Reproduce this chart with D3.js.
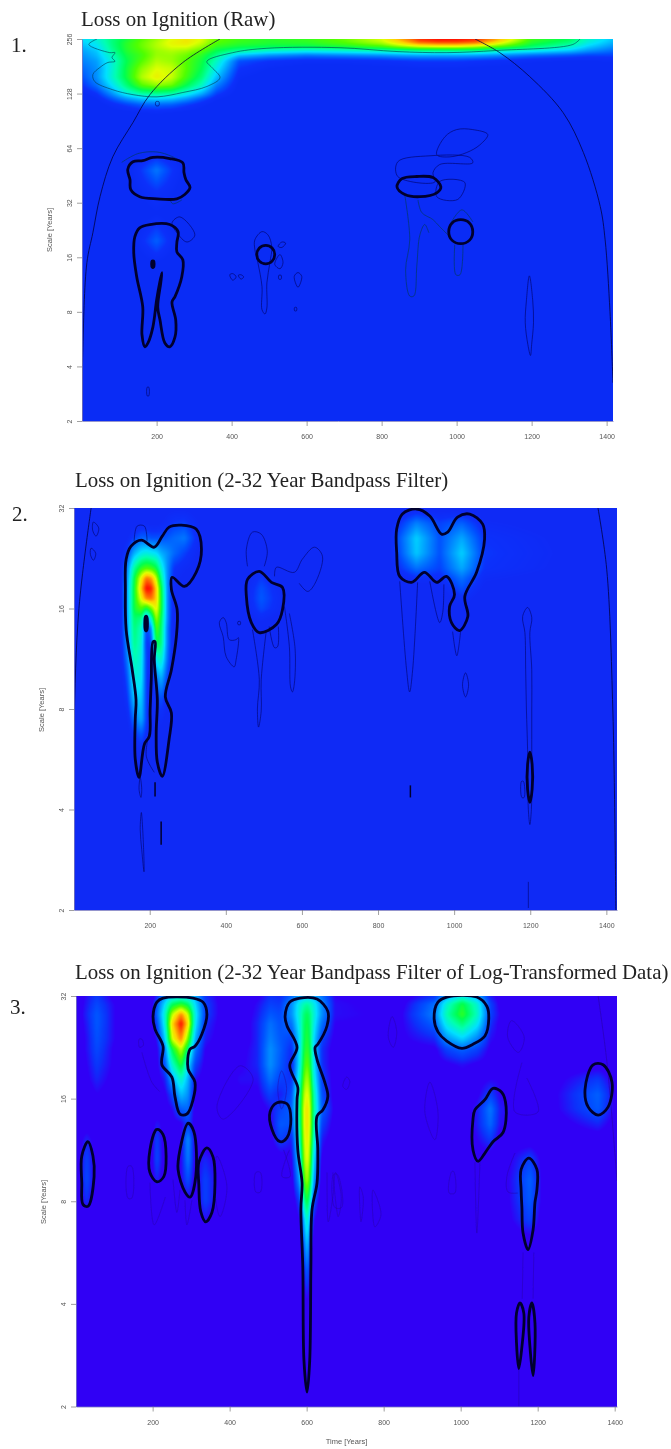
<!DOCTYPE html>
<html><head><meta charset="utf-8">
<script src="https://cdn.jsdelivr.net/npm/d3@7/dist/d3.min.js"></script>
<style>html,body{margin:0;padding:0;background:#fff}svg{display:block}</style>
</head><body><div id="chart"></div>
<script>
const titles=["Loss on Ignition (Raw)","Loss on Ignition (2-32 Year Bandpass Filter)","Loss on Ignition (2-32 Year Bandpass Filter of Log-Transformed Data)"];
const panelNumbers=["1.","2.","3."];
const timeTicks=[200,400,600,800,1000,1200,1400];
const scaleTicks1=[2,4,8,16,32,64,128,256];
const scaleTicks2=[2,4,8,16,32];
const colorStops=[0,.04,.08,.12,.16,.22,.3,.4,.5,.6,.72,.8,.9,1];
const colorValues=["#0c30fa","#0050ff","#0070ff","#00a0ff","#00e0ff","#00ffb0","#00ff50","#50ff00","#e0ff00","#ffd000","#ff7000","#ff0000"];
const baseColors=["#0a2cf5","#0f2af5","#3000f5"];

/* Wavelet power. Columns are years, rows are log2(scale). Short rows end in zeros. */
const years1=[1,40,80,120,160,200,240,280,320,360,420,500,600,700,800,850,900,950,1000,1050,1100,1200,1300,1350,1417];
const octaves1=[8,7.93,7.86,7.78,7.7,7.6,7.45,7.3,7.15,7,6.9,6.8,6.65,6.4,6,5.6,5.2,4.8,4.3,3.9,3,2,1];
const power1=[
[.30,.35,.45,.52,.60,.66,.72,.76,.72,.62,.58,.55,.57,.62,.72,.85,.97,1,1,.98,.88,.58,.5,.38,.27],
[.28,.33,.45,.55,.62,.68,.74,.76,.70,.60,.56,.54,.55,.60,.68,.78,.90,.93,.93,.90,.78,.54,.45,.34,.24],
[.25,.3,.44,.55,.62,.68,.72,.72,.66,.56,.52,.50,.50,.53,.58,.65,.70,.72,.72,.68,.62,.48,.38,.28,.2],
[.22,.27,.42,.54,.6,.66,.68,.66,.6,.5,.42,.36,.33,.35,.38,.40,.42,.42,.42,.42,.38,.32,.26,.2,.15],
[.2,.25,.38,.52,.58,.66,.66,.62,.55,.44,.26,.2,.16,.18,.2,.22,.23,.23,.23,.22,.2,.15,.12,.1,.1],
[.18,.22,.35,.5,.6,.68,.66,.6,.52,.38,.12,.08,.06,.06,.07,.08,.09,.09,.09,.08,.07,.05,.04,.04,.05],
[.15,.2,.35,.52,.65,.72,.7,.6,.5,.32,.08,.04,.02,.02,.03,.03,.04,.04,.04,.03,.03,.02,.01,.01,.02],
[.12,.2,.36,.52,.68,.75,.7,.58,.46,.26,.05,.02,.01,.01,.01,.02,.02,.03,.02,.02,.01],
[.08,.16,.3,.46,.6,.65,.62,.5,.38,.18,.03,.01,.01,.01,.01,.02,.02,.02,.02,.01,.01],
[.03,.08,.2,.34,.42,.44,.42,.34,.24,.1,.02,.01,0,0,.01,.01,.02,.02,.02,.01],
[0,.04,.12,.2,.26,.28,.26,.2,.12,.05,.01,0,0,0,0,.01,.02,.03,.02,.01],
[0,.02,.06,.1,.14,.15,.14,.1,.06,.02,0,0,0,0,0,.01,.02,.03,.02,.01],
[0,0,.02,.03,.04,.05,.04,.03,.02,0,0,0,0,0,0,.01,.02,.03,.02,.01],
[0,0,0,0,0,0,0,0,0,0,0,0,0,0,0,.01,.02,.02,.02,.01],
[0,0,0,0,.01,.01,.01,0,0,0,0,0,0,0,0,.01,.02,.02,.01],
[0,0,0,.02,.09,.17,.09,.02,0,0,0,0,0,0,0,.01,.01,.01],
[0,0,0,.01,.05,.08,.05,.01],
[0,0,0,0,.02,.04,.02],
[0,0,0,.01,.07,.14,.06,.01],
[0,0,0,0,.02,.04,.02],
[],[],[]];

const years2=[1,120,141,159,178,191,204,217,230,246,264,291,330,435,493,554,817,857,901,962,1020,1080,1428];
const octaves2=[5,4.85,4.7,4.55,4.4,4.3,4.2,4.1,4,3.9,3.8,3.65,3.5,3.3,3.1,2.9,2.75,2.6,2.3,1];
const power2=[
[0,0,0,0,0,0,0,0,.02,.03,.03,.03,.02,0,0,0,0,.01,.03,.02,.02,.01,0],
[0,0,0,.02,.04,.04,.03,.03,.04,.06,.09,.1,.04,0,.01,0,0,.08,.18,.1,.14,.05,0],
[0,0,.04,.1,.14,.14,.12,.12,.12,.13,.15,.17,.05,0,.01,0,0,.13,.28,.12,.23,.08,0],
[0,.01,.1,.24,.32,.34,.32,.3,.24,.2,.15,.1,.03,0,.02,0,0,.12,.27,.12,.28,.09,0],
[0,.02,.18,.42,.56,.6,.58,.52,.36,.2,.08,.05,.02,0,.05,0,0,.08,.16,.1,.23,.08,0],
[0,.02,.2,.5,.75,.9,.86,.7,.44,.2,.06,.03,0,0,.09,.02,0,.03,.07,.06,.16,.05,0],
[0,.02,.22,.52,.82,1,.98,.8,.52,.2,.04,.01,0,0,.12,.03,0,0,.01,.03,.12,.03,0],
[0,.02,.22,.52,.74,.88,.9,.8,.54,.2,.03,0,0,0,.13,.04,0,0,0,0,.07,.01,0],
[0,.02,.22,.52,.6,.5,.62,.76,.54,.2,.03,0,0,0,.11,.04,0,0,0,0,.03,0,0],
[0,.02,.22,.48,.44,.2,.36,.68,.5,.2,.02,0,0,0,.06,.01,0,0,0,0,.03,0,0],
[0,.02,.22,.46,.38,.1,.18,.6,.48,.18,.02],
[0,.01,.2,.44,.36,.08,.1,.5,.46,.18,.02],
[0,.01,.17,.4,.34,.1,.05,.34,.38,.16,.01],
[0,0,.12,.34,.32,.1,.02,.16,.24,.1,.01],
[0,0,.08,.26,.28,.1,.02,.08,.12,.05],
[0,0,.04,.16,.24,.1,.01,.04,.06,.02],
[0,0,.02,.08,.13,.07,0,.01,.02,.01],
[0,0,0,.03,.06,.03,0,0,.01],
[],[]];

const years3=[1,29,55,102,193,211,232,250,274,292,310,336,388,427,473,505,531,561,582,593,601,608,618,639,673,842,933,964,1004,1043,1077,1102,1180,1219,1357,1406];
const octaves3=[5,4.92,4.82,4.73,4.58,4.48,4.33,4.19,4.04,3.9,3.75,3.6,3.41,3.21,3.01,2.82,2.57,2.33,2.04,1];
const power3=[
[0,.05,.09,.02,0,.06,.2,.28,.3,.28,.24,.08,.01,0,.03,.08,.07,.14,.22,.24,.26,.25,.24,.16,.04,.01,.08,.22,.32,.22,.06,.02,.01,0,0,0],
[0,.06,.11,.04,0,.12,.3,.48,.55,.48,.3,.1,.01,0,.05,.1,.09,.2,.34,.4,.42,.4,.34,.2,.05,.02,.16,.36,.52,.36,.1,.03,.01,.01,0,0],
[0,.07,.13,.04,0,.14,.36,.68,.88,.7,.34,.1,.01,0,.06,.13,.11,.2,.36,.46,.5,.46,.36,.2,.05,.03,.18,.4,.56,.38,.1,.04,.02,.01,.01,0],
[0,.06,.13,.04,0,.1,.34,.78,1,.78,.32,.08,.01,0,.07,.16,.12,.16,.34,.48,.52,.48,.34,.16,.04,.03,.14,.34,.46,.32,.08,.03,.03,.01,.01,0],
[0,.05,.12,.04,.01,.05,.27,.7,.88,.62,.24,.06,.01,0,.07,.18,.13,.1,.3,.5,.54,.5,.3,.1,.03,.03,.07,.2,.28,.18,.05,.03,.03,.01,.01,0],
[0,.05,.11,.03,.01,.03,.18,.5,.7,.46,.17,.04,0,.02,.07,.2,.14,.07,.3,.52,.56,.52,.3,.08,.02,.02,.03,.1,.14,.1,.03,.03,.02,.01,.01,0],
[0,.04,.09,.03,.01,.03,.12,.36,.54,.3,.1,.03,.01,.03,.07,.2,.13,.06,.32,.56,.62,.56,.32,.08,.02,.01,.02,.03,.05,.03,.02,.03,.02,.01,.02,0],
[0,.03,.07,.02,.01,.02,.06,.22,.38,.24,.05,.02,.01,.05,.05,.16,.1,.08,.36,.62,.68,.62,.36,.1,.02,.01,.01,.02,.02,.02,.04,.04,.02,.01,.09,.01],
[0,.01,.04,.01,.01,.01,.03,.1,.26,.2,.03,.02,.01,.03,.03,.1,.06,.12,.42,.68,.74,.68,.42,.12,.02,.01,.02,.01,.01,.03,.1,.04,.02,.01,.14,.02],
[0,.01,.02,0,0,.01,.02,.04,.14,.15,.02,.01,.01,.01,.01,.05,.1,.14,.44,.72,.78,.72,.44,.14,.03,.01,.03,.01,.01,.06,.17,.06,.01,.01,.13,.02],
[0,.01,.01,0,0,.06,.02,.02,.03,.1,.02,0,0,0,0,.03,.13,.12,.42,.72,.78,.72,.42,.1,.02,.01,.02,.01,0,.06,.15,.05,.01,0,.07,.01],
[0,.07,.01,0,0,.1,.01,.01,.04,.2,.03,.01,0,0,0,.02,.1,.06,.38,.7,.76,.7,.38,.06,.01,0,0,0,0,.04,.09,.02,.01,0,.01,0],
[0,.1,.01,0,0,.11,.01,.01,.04,.18,.03,.07,0,0,0,0,.01,.03,.3,.66,.74,.66,.3,.03,0,0,0,0,0,.01,.01,0,.1,.01],
[0,.11,.01,0,0,.07,0,.01,.04,.12,.02,.1,0,0,0,0,0,.01,.22,.58,.68,.58,.22,.02,0,0,0,0,0,0,0,0,.14,.01],
[0,.08,0,0,0,0,0,0,.01,.04,.01,.1,0,0,0,0,0,0,.1,.42,.54,.42,.12,0,0,0,0,0,0,0,0,0,.13,.01],
[0,0,0,0,0,0,0,0,0,0,0,.05,0,0,0,0,0,0,.04,.24,.4,.24,.05,0,0,0,0,0,0,0,0,0,.1],
[0,0,0,0,0,0,0,0,0,0,0,0,0,0,0,0,0,0,.01,.13,.28,.13,.01],
[0,0,0,0,0,0,0,0,0,0,0,0,0,0,0,0,0,0,0,.05,.16,.05],
[0,0,0,0,0,0,0,0,0,0,0,0,0,0,0,0,0,0,0,0,.06],
[]];

/* Contours as [year, log2(scale)] pairs. */
const thick1=[
[[123,5.61],[137,5.75],[163,5.77],[190,5.83],[235,5.81],[270,5.73],[273,5.55],[278,5.42],[289,5.28],[275,5.15],[254,5.07],[201,5.07],[155,5.11],[131,5.24],[129,5.42]],
[[142,4.38],[155,4.54],[182,4.6],[235,4.6],[257,4.47],[254,4.27],[254,4.1],[270,3.95],[267,3.64],[249,3.28],[241,3.18],[251,2.85],[249,2.54],[235,2.36],[222,2.43],[209,2.85],[203,3.09],[211,3.53],[214,3.72],[208,3.53],[200,3.22],[190,2.72],[177,2.43],[169,2.36],[161,2.58],[163,3.09],[147,3.64],[139,4.08]],
[[188,3.93],[192,3.93],[192,3.82],[188,3.82]],
[[841,5.29],[854,5.44],[894,5.48],[937,5.46],[958,5.29],[947,5.18],[902,5.11],[862,5.15]],
[[1011,4.69],[1034,4.63],[1043,4.47],[1034,4.31],[1011,4.25],[988,4.31],[979,4.47],[988,4.63]],
[[491,4.22],[508,4.17],[515,4.05],[508,3.93],[491,3.88],[474,3.93],[467,4.05],[474,4.17]]];
const thinClosed1=[
[[198,6.85],[206,6.85],[206,6.78],[198,6.78]],
[[241,4.63],[262,4.74],[302,4.41],[281,4.28],[254,4.45]],
[[462,4.32],[481,4.47],[497,4.41],[507,4.19],[502,3.9],[494,3.53],[494,3.07],[489,2.96],[481,3.04],[481,3.46],[470,3.9],[462,4.14]],
[[524,4.2],[534,4.28],[544,4.26],[534,4.18]],
[[529,4.05],[537,3.9],[529,3.79],[515,3.87]],
[[395,3.68],[403,3.7],[412,3.64],[403,3.58]],
[[418,3.67],[425,3.68],[432,3.64],[425,3.6]],
[[526,3.67],[532,3.67],[532,3.6],[526,3.6]],
[[567,3.65],[577,3.72],[587,3.65],[577,3.45]],
[[568,3.08],[573,3.08],[573,3.02],[568,3.02]],
[[175,1.62],[179,1.62],[179,1.46],[175,1.46]],
[[969,6.21],[1000,6.34],[1043,6.34],[1083,6.25],[1062,6.06],[1027,5.92],[982,5.84],[947,5.88]],
[[843,5.75],[929,5.86],[1035,5.83],[1043,5.73],[955,5.7],[937,5.55],[942,5.38],[843,5.48]],
[[955,5.39],[1022,5.37],[1003,5.06],[947,5.11]],
[[1194,3.66],[1203,3.2],[1205,2.8],[1200,2.4],[1197,2.2],[1190,2.4],[1183,2.8],[1186,3.2]]];
const thinOpen1=[
[[41,8],[19,7.9],[75,7.75],[89,7.75],[81,7.66],[89,7.59],[70,7.57],[49,7.48],[30,7.35],[35,7.22],[83,7.07],[137,6.98],[201,6.94],[270,7.02],[334,7.13],[369,7.29],[347,7.48],[334,7.59],[403,7.75],[494,7.83],[689,7.84],[841,7.77],[974,7.75],[1107,7.79],[1310,7.9],[1329,8]],
[[107,5.74],[150,5.9],[201,5.93],[240,5.85],[267,5.75]],
[[235,5.07],[243,4.98],[267,5.05]],
[[862,5.13],[875,4.32],[864,3.77],[875,3.29],[886,3.29],[894,3.86],[902,4.41],[915,4.6],[926,4.45]],
[[897,5.05],[907,4.82],[937,4.69],[955,4.56],[977,4.41]],
[[982,4.6],[1014,4.87],[1043,4.65]],
[[995,4.23],[998,3.68],[1009,3.68],[1017,4.23]]];
const coi1=[
[[369,8],[270,7.57],[182,6.98],[137,6.47],[83,5.84],[49,5.11],[30,4.45],[14,3.9],[3,2.25],[1,1]],
[[1049,8],[1115,7.75],[1195,7.31],[1284,6.65],[1338,5.92],[1383,4.93],[1396,4.32],[1409,3],[1417,1.7]]];

const thick2=[
[[138,4.49],[151,4.62],[178,4.68],[212,4.61],[233,4.72],[251,4.81],[283,4.83],[322,4.79],[336,4.59],[322,4.36],[291,4.22],[259,4.31],[257,4.19],[272,3.99],[270,3.72],[257,3.39],[241,3.12],[257,2.96],[251,2.7],[233,2.33],[220,2.47],[217,2.75],[220,3.09],[212,3.49],[214,3.67],[209,3.67],[204,3.29],[201,2.99],[199,2.73],[186,2.65],[172,2.32],[162,2.5],[162,2.9],[164,3.09],[154,3.39],[138,3.79],[136,4.19]],
[[189,3.92],[192,3.92],[192,3.78],[189,3.78]],
[[454,4.12],[457,4.29],[488,4.37],[520,4.26],[549,4.21],[549,3.99],[533,3.84],[488,3.76],[467,3.86]],
[[849,4.79],[864,4.94],[901,4.99],[936,4.92],[967,4.74],[983,4.76],[1009,4.91],[1041,4.94],[1075,4.84],[1080,4.69],[1059,4.36],[1028,4.12],[1036,3.92],[1014,3.78],[993,3.86],[988,4.02],[1001,4.14],[980,4.32],[954,4.26],[922,4.36],[888,4.26],[857,4.32],[849,4.56]],
[[1199,2.57],[1205,2.45],[1205,2.2],[1199,2.07],[1193,2.2],[1193,2.45]]];
const thinClosed2=[
[[52,4.86],[66,4.8],[59,4.72],[50,4.78]],
[[46,4.6],[58,4.55],[52,4.48],[44,4.54]],
[[383,3.86],[393,3.91],[401,3.86],[409,3.69],[427,3.69],[433,3.71],[427,3.49],[422,3.42],[401,3.52],[393,3.72]],
[[432,3.87],[438,3.87],[438,3.84],[432,3.84]],
[[1030,3.36],[1038,3.24],[1030,3.12],[1022,3.24]],
[[1180,3.92],[1193,4.01],[1204,3.91],[1199,3.76],[1204,3.39],[1204,2.99],[1204,2.6],[1204,2.3],[1203,2],[1199,1.85],[1195,2],[1193,2.6],[1190,2.99],[1188,3.39],[1186,3.76]],
[[1177,2.28],[1182,2.28],[1184,2.12],[1178,2.12]],
[[175,2.32],[179,2.2],[177,2.12],[172,2.2]],
[[178,1.97],[184,1.6],[185,1.38],[179,1.6],[175,1.8]]];
const thinOpen2=[
[[159,4.67],[167,4.82],[186,4.82],[193,4.67]],
[[457,4.42],[454,4.59],[470,4.76],[493,4.74],[509,4.57],[501,4.42]],
[[528,4.32],[533,4.41],[580,4.36],[601,4.49],[633,4.61],[654,4.52],[633,4.24],[615,4.17],[593,4.25]],
[[554,4.02],[567,3.62],[570,3.22],[575,3.17],[580,3.25],[582,3.6],[567,3.95]],
[[470,3.79],[488,3.29],[483,3],[486,2.82],[493,2.98],[493,3.29],[506,3.77]],
[[514,3.82],[528,3.61],[536,3.62],[538,3.82]],
[[857,4.27],[875,3.39],[883,3.17],[891,3.39],[904,4.26]],
[[936,4.27],[962,3.86],[970,3.96],[973,4.24]],
[[996,3.77],[1007,3.53],[1017,3.77]],
[[212,2.37],[191,2.53],[199,2.77]],
[[1195,1.28],[1195,1.02]]];
const dark2=[
[[214,2.27],[214,2.13]],
[[230,1.88],[230,1.65]],
[[885,2.24],[885,2.12]]];
const coi2=[
[[46,5],[14,4],[1,2.77],[1,1]],
[[1378,5],[1401,4.39],[1417,3],[1425,1]]];

const thick3=[
[[201,4.8],[211,4.94],[227,4.98],[305,4.98],[331,4.94],[341,4.82],[328,4.63],[310,4.51],[297,4.48],[292,4.29],[310,4.16],[305,3.99],[289,3.85],[271,3.85],[258,4.02],[250,4.21],[224,4.33],[227,4.51],[206,4.68]],
[[544,4.8],[556,4.94],[583,4.98],[627,4.97],[655,4.85],[653,4.71],[629,4.53],[622,4.5],[627,4.38],[647,4.16],[655,4.02],[642,3.89],[627,3.83],[629,3.5],[627,3.18],[614,2.92],[611,2.36],[608,1.45],[601,1.14],[593,1.45],[590,2.36],[585,2.92],[588,3.18],[577,3.5],[575,3.99],[577,4.11],[556,4.32],[575,4.5],[549,4.71]],
[[931,4.78],[941,4.94],[964,4.99],[1042,4.99],[1068,4.9],[1073,4.78],[1063,4.61],[1032,4.53],[1003,4.49],[964,4.56],[941,4.65]],
[[1032,3.8],[1037,3.89],[1063,3.99],[1084,4.1],[1107,4.06],[1118,3.92],[1110,3.67],[1084,3.58],[1063,3.47],[1045,3.39],[1032,3.5]],
[[1323,4.09],[1344,4.33],[1370,4.33],[1393,4.16],[1383,3.92],[1357,3.84],[1331,3.92]],
[[1177,3.42],[1198,3.31],[1198,3.11],[1193,2.99],[1188,2.72],[1175,2.53],[1162,2.69],[1159,2.94],[1157,3.11],[1157,3.31]],
[[1154,2.01],[1164,1.91],[1159,1.58],[1151,1.37],[1145,1.62],[1145,1.91]],
[[1185,2.01],[1193,1.81],[1188,1.3],[1180,1.58],[1177,1.87]],
[[16,3.44],[32,3.58],[45,3.44],[48,3.24],[32,2.95],[19,2.97],[16,3.18]],
[[193,3.5],[211,3.7],[227,3.65],[235,3.44],[229,3.24],[211,3.19],[193,3.28]],
[[271,3.5],[292,3.76],[307,3.68],[312,3.24],[297,3.04],[284,3.09],[266,3.31]],
[[320,3.38],[341,3.52],[357,3.43],[362,3.18],[354,2.89],[338,2.8],[325,2.9],[320,3.16]],
[[505,3.87],[523,3.96],[549,3.95],[559,3.8],[549,3.62],[531,3.58],[510,3.7]]];
const thinClosed3=[
[[136,3.34],[146,3.34],[146,3.03],[136,3.03]],
[[367,3.44],[393,3.14],[375,2.85],[362,3.08]],
[[468,3.28],[480,3.28],[480,3.09],[468,3.09]],
[[670,3.26],[673,2.94],[691,2.94],[680,3.26]],
[[738,3.14],[741,2.8],[747,3.04]],
[[772,3.11],[777,2.75],[793,2.87]],
[[977,3.29],[970,3.08],[985,3.08],[982,3.29]],
[[367,3.92],[427,4.32],[461,4.19],[383,3.8]],
[[535,4.27],[548,4.1],[535,3.9],[525,4.1]],
[[920,4.16],[907,3.87],[933,3.6],[941,3.87]],
[[704,4.21],[694,4.12],[704,4.09],[712,4.17]],
[[822,4.8],[812,4.6],[825,4.5],[834,4.65]],
[[1132,4.76],[1122,4.6],[1150,4.45],[1165,4.6]],
[[165,4.58],[172,4.58],[176,4.52],[166,4.5]]];
const thinOpen3=[
[[193,3.18],[204,2.77],[233,3.04]],
[[253,3.21],[263,2.89],[271,3.11]],
[[284,3.01],[289,2.77],[302,3.01]],
[[555,3.5],[536,3.24],[557,3.24],[540,3.5]],
[[653,3.28],[656,2.8],[668,3.04],[675,3.28],[690,3.04],[682,2.85],[668,3.28]],
[[1037,3.38],[1042,2.69],[1050,3.38]],
[[1141,3.47],[1120,3.24],[1123,3.09],[1149,3.08]],
[[1159,4.35],[1141,3.87],[1201,3.87],[1172,4.2]],
[[172,4.45],[198,4.16],[218,4.07]],
[[1151,1.37],[1151,1]],
[[1162,2.5],[1160,2.05]],
[[1190,2.5],[1188,2.05]]];
const coi3=[[[1357,5],[1380,4.35],[1406,3.2]]];

const panels=[
 {i:0,title:[81,26],num:[11,52],domainX:[1,1417],rangeX:[82,613],domainY:[2,256],rangeY:[421,39],ticksY:scaleTicks1,years:years1,octaves:octaves1,power:power1,thick:thick1,closed:thinClosed1,open:thinOpen1,dark:[],coi:coi1,labelX:52,labelY:230,thin:"#0a0a60",thinOp:.75,pad:9},
 {i:1,title:[75,487],num:[12,521],domainX:[1,1428],rangeX:[74,617],domainY:[2,32],rangeY:[910,508],ticksY:scaleTicks2,years:years2,octaves:octaves2,power:power2,thick:thick2,closed:thinClosed2,open:thinOpen2,dark:dark2,coi:coi2,labelX:44,labelY:710,thin:"#0a0a60",thinOp:.7,pad:9},
 {i:2,title:[75,979],num:[10,1014],domainX:[1,1406],rangeX:[76,617],domainY:[2,32],rangeY:[1406.5,996],ticksY:scaleTicks2,years:years3,octaves:octaves3,power:power3,thick:thick3,closed:thinClosed3,open:thinOpen3,dark:[],coi:coi3,labelX:46,labelY:1202,thin:"#28009a",thinOp:.5,pad:10}
];

const W=671,H=1449;
const svg=d3.select("#chart").append("svg").attr("width",W).attr("height",H).style("background","#fff");
const defs=svg.append("defs");
defs.append("filter").attr("id","soft").attr("x","-2%").attr("y","-2%").attr("width","104%").attr("height","104%").append("feGaussianBlur").attr("stdDeviation",.45);
defs.append("filter").attr("id","softText").append("feGaussianBlur").attr("stdDeviation",.3);

function heatImage(p,x,y,w,h){
  const palette=d3.scaleLinear().domain(colorStops).range([baseColors[p.i],baseColors[p.i],...colorValues]).clamp(true);
  const lut=d3.range(1001).map(k=>d3.rgb(palette(k/1000)));
  const bisY=d3.bisector(d=>-d);
  let v=new Float32Array(w*h);
  const x0=p.rangeX[0],y0=p.rangeY[1];
  for(let r=0;r<h;r++){
    const oct=Math.log2(y.invert(y0+r+.5));
    const j=Math.max(0,Math.min(p.octaves.length-2,bisY.right(p.octaves,-oct)-1));
    const fy=Math.max(0,Math.min(1,(p.octaves[j]-oct)/(p.octaves[j]-p.octaves[j+1])));
    for(let c=0;c<w;c++){
      const t=x.invert(x0+c+.5);
      const k=Math.max(0,Math.min(p.years.length-2,d3.bisectRight(p.years,t)-1));
      const fx=Math.max(0,Math.min(1,(t-p.years[k])/(p.years[k+1]-p.years[k])));
      const a=p.power[j],b=p.power[j+1];
      const top=(a[k]||0)*(1-fx)+(a[k+1]||0)*fx, bot=(b[k]||0)*(1-fx)+(b[k+1]||0)*fx;
      v[r*w+c]=top*(1-fy)+bot*fy;
    }
  }
  for(let pass=0;pass<2;pass++){
    const o=new Float32Array(w*h);
    for(let r=0;r<h;r++)for(let c=0;c<w;c++){
      const l=v[r*w+Math.max(0,c-1)],m=v[r*w+c],n=v[r*w+Math.min(w-1,c+1)];
      o[r*w+c]=(l+m+n)/3;
    }
    const q=new Float32Array(w*h);
    for(let r=0;r<h;r++)for(let c=0;c<w;c++){
      const l=o[Math.max(0,r-1)*w+c],m=o[r*w+c],n=o[Math.min(h-1,r+1)*w+c];
      q[r*w+c]=(l+m+n)/3;
    }
    v=q;
  }
  const cv=document.createElement("canvas");cv.width=w;cv.height=h;
  const ctx=cv.getContext("2d");const img=ctx.createImageData(w,h);
  for(let s=0;s<w*h;s++){
    const col=lut[Math.max(0,Math.min(1000,Math.round(v[s]*1000)))];
    img.data[s*4]=col.r;img.data[s*4+1]=col.g;img.data[s*4+2]=col.b;img.data[s*4+3]=255;
  }
  ctx.putImageData(img,0,0);
  return cv.toDataURL("image/png");
}

panels.forEach(p=>{
  const x=d3.scaleLinear().domain(p.domainX).range(p.rangeX);
  const y=d3.scaleLog().base(2).domain(p.domainY).range(p.rangeY);
  const w=p.rangeX[1]-p.rangeX[0],h=Math.round(p.rangeY[0]-p.rangeY[1]);
  const left=p.rangeX[0],top=p.rangeY[1],bottom=p.rangeY[0];
  const g=svg.append("g");

  svg.append("text").attr("x",p.title[0]).attr("y",p.title[1]).attr("font-family","'Liberation Serif',serif").attr("font-size",20.9).attr("fill","#222").attr("filter","url(#softText)").text(titles[p.i]);
  svg.append("text").attr("x",p.num[0]).attr("y",p.num[1]).attr("font-family","'Liberation Serif',serif").attr("font-size",21).attr("fill","#222").attr("filter","url(#softText)").text(panelNumbers[p.i]);

  g.append("image").attr("x",left).attr("y",top).attr("width",w).attr("height",h).attr("href",heatImage(p,x,y,w,h));

  const clipId="clip"+p.i;
  defs.append("clipPath").attr("id",clipId).append("rect").attr("x",left).attr("y",top).attr("width",w).attr("height",bottom-top);
  const marks=g.append("g").attr("clip-path",`url(#${clipId})`).append("g").attr("filter","url(#soft)");
  const px=d=>x(d[0]),py=d=>y(Math.pow(2,d[1]));
  const closed=d3.line().x(px).y(py).curve(d3.curveCatmullRomClosed.alpha(.5));
  const open=d3.line().x(px).y(py).curve(d3.curveCatmullRom.alpha(.5));
  marks.selectAll(".coi").data(p.coi).join("path").attr("class","coi").attr("d",open).attr("fill","none").attr("stroke",p.i===2?"#28009a":"#08083a").attr("stroke-width",.9).attr("opacity",p.i===2?.55:.85);
  marks.selectAll(".tc").data(p.closed).join("path").attr("class","tc").attr("d",closed).attr("fill","none").attr("stroke",p.thin).attr("stroke-width",.8).attr("opacity",p.thinOp);
  marks.selectAll(".to").data(p.open).join("path").attr("class","to").attr("d",open).attr("fill","none").attr("stroke",p.i===0?"#0a3a50":p.thin).attr("stroke-width",.8).attr("opacity",p.thinOp);
  marks.selectAll(".dk").data(p.dark).join("path").attr("class","dk").attr("d",open).attr("fill","none").attr("stroke","#05052e").attr("stroke-width",1.5);
  marks.selectAll(".tk").data(p.thick).join("path").attr("class","tk").attr("d",closed).attr("fill","none").attr("stroke","#05052e").attr("stroke-width",2.8).attr("stroke-linejoin","round");

  const axes=svg.append("g").attr("filter","url(#softText)");
  const ax=axes.append("g").attr("transform",`translate(0,${bottom})`).call(d3.axisBottom(x).tickValues(timeTicks).tickSizeInner(5).tickSizeOuter(0).tickPadding(p.pad-1).tickFormat(d3.format("d")));
  const ay=axes.append("g").attr("transform",`translate(${left},0)`).call(d3.axisLeft(y).tickValues(p.ticksY).tickSizeInner(5).tickSizeOuter(0).tickPadding(2).tickFormat(d3.format("d")));
  [ax,ay].forEach(a=>{
    a.select(".domain").attr("stroke","#7a7ac0").attr("stroke-width",.8);
    a.selectAll(".tick line").attr("stroke","#777").attr("stroke-width",.7);
    a.selectAll("text").attr("font-family","'Liberation Sans',sans-serif").attr("font-size",7).attr("fill","#555");
  });
  ay.selectAll("text").attr("text-anchor","middle").attr("x",-13).attr("dy",0).attr("y",2.5).attr("transform","rotate(-90 -13 0)");
  axes.append("text").attr("transform",`translate(${p.labelX},${p.labelY}) rotate(-90)`).attr("text-anchor","middle").attr("font-family","'Liberation Sans',sans-serif").attr("font-size",7.5).attr("fill","#555").text("Scale [Years]");
  if(p.i===2){
    axes.append("text").attr("x",346.5).attr("y",1444).attr("text-anchor","middle").attr("font-family","'Liberation Sans',sans-serif").attr("font-size",7.5).attr("fill","#555").text("Time [Years]");
  }
});
</script></body></html>
